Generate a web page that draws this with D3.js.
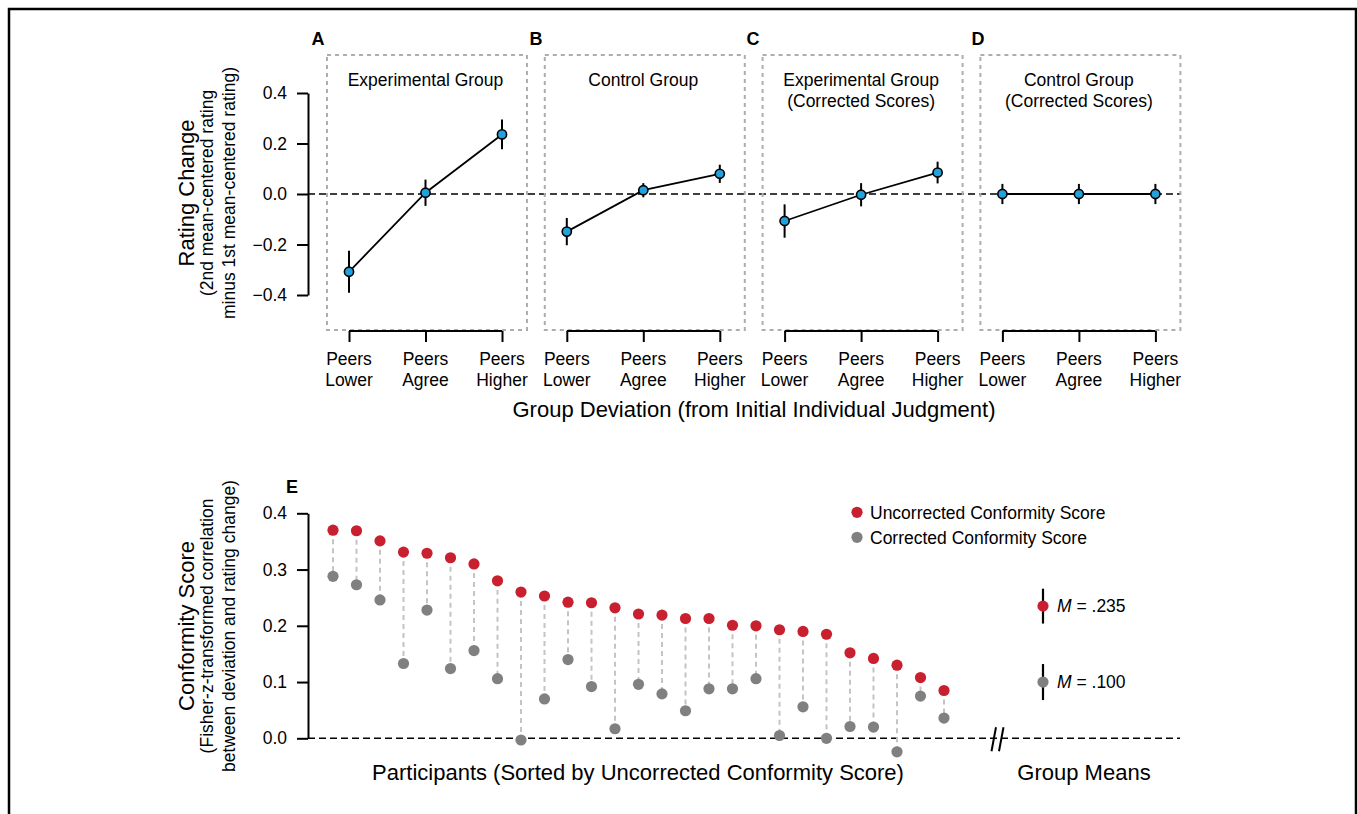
<!DOCTYPE html>
<html>
<head>
<meta charset="utf-8">
<script src="https://cdn.jsdelivr.net/npm/d3@7"></script>
<style>
  body { margin: 0; background: #fff; }
  svg { display: block; font-family: "Liberation Sans", Arial, sans-serif; }
</style>
</head>
<body>
<div id="container"></div>
<script>
// panels A-D
const panelLetters = ["A", "B", "C", "D"];
const panelTitles = [
  ["Experimental Group"],
  ["Control Group"],
  ["Experimental Group", "(Corrected Scores)"],
  ["Control Group", "(Corrected Scores)"]
];
const deviationCats = ["Lower", "Agree", "Higher"];
const ratingMeans = [
  [-0.308, 0.005, 0.236],
  [-0.149, 0.015, 0.080],
  [-0.107, -0.003, 0.085],
  [0.000, 0.000, 0.000]
];
const ratingErr = [
  [0.083, 0.052, 0.059],
  [0.054, 0.028, 0.036],
  [0.066, 0.046, 0.043],
  [0.040, 0.040, 0.040]
];
const ratingTicks = [-0.4, -0.2, 0.0, 0.2, 0.4];

// panel E
const uncorrected = [0.370, 0.369, 0.351, 0.331, 0.329, 0.321, 0.310, 0.280, 0.260, 0.253,
  0.242, 0.241, 0.232, 0.221, 0.219, 0.213, 0.213, 0.201, 0.200, 0.193,
  0.190, 0.185, 0.152, 0.142, 0.130, 0.108, 0.085];
const corrected = [0.288, 0.273, 0.246, 0.133, 0.228, 0.124, 0.156, 0.106, -0.003, 0.070,
  0.140, 0.092, 0.017, 0.096, 0.079, 0.049, 0.088, 0.088, 0.106, 0.005,
  0.056, 0.000, 0.021, 0.020, -0.024, 0.075, 0.036];
const groupMeans = [0.235, 0.100];
const groupMeanErr = [0.031, 0.032];
const meanLabels = [".235", ".100"];
const legendLabels = ["Uncorrected Conformity Score", "Corrected Conformity Score"];
const conformityTicks = [0.0, 0.1, 0.2, 0.3, 0.4];

const RED = "#c8202f", GRAY = "#808080", BLUE = "#22a2dc";

const svg = d3.select("#container").
  append("svg").
  attr("width", 1357).
  attr("height", 814);

// outer frame
svg.append("path").
  attr("d", "M9,814V9H1356V814").
  attr("fill", "none").
  attr("stroke", "#000").
  attr("stroke-width", 2.5);

// ---------- top panels ----------
let yTop = d3.scaleLinear().domain([-0.4, 0.4]).range([295, 93]);
let panelStep = 217.8, panelLeft = 327, boxW = 200;

let yAxisTop = d3.axisLeft(yTop).
  tickValues(ratingTicks).
  tickSize(11).
  tickSizeOuter(0).
  tickPadding(10).
  tickFormat(d3.format(".1f"));

let gy = svg.append("g").
  attr("transform", "translate(308,0)").
  call(yAxisTop);
styleAxis(gy);

// zero line
svg.append("line").
  attr("x1", 308).attr("x2", 1180).
  attr("y1", yTop(0)).attr("y2", yTop(0)).
  attr("stroke", "#000").
  attr("stroke-width", 1.6).
  attr("stroke-dasharray", "7,4");

panelLetters.forEach((letter, i) => {
  let x0 = panelLeft + i * panelStep;
  let g = svg.append("g");

  // dashed box
  g.append("rect").
    attr("x", x0).attr("y", 55).
    attr("width", boxW).attr("height", 275).
    attr("fill", "none").
    attr("stroke", "#adadad").
    attr("stroke-width", 2).
    attr("stroke-dasharray", "4,4");

  let xs = d3.scalePoint().
    domain(deviationCats).
    range([x0 + 22, x0 + 175]);

  let xAxis = d3.axisBottom(xs).
    tickSize(11).
    tickSizeOuter(0).
    tickFormat("");
  let gx = g.append("g").
    attr("transform", "translate(0,331)").
    call(xAxis);
  gx.select(".domain").attr("d", "M" + xs("Lower") + ",0H" + xs("Higher"));
  styleAxis(gx);

  deviationCats.forEach(c => {
    let t = g.append("text").
      attr("x", xs(c)).
      attr("text-anchor", "middle").
      attr("font-size", 17.5);
    t.append("tspan").attr("x", xs(c)).attr("y", 365).text("Peers");
    t.append("tspan").attr("x", xs(c)).attr("y", 386).text(c);
  });

  // title
  panelTitles[i].forEach((line, j) => {
    g.append("text").
      attr("x", xs("Agree")).
      attr("y", 86 + j * 20.5).
      attr("text-anchor", "middle").
      attr("font-size", 17.5).
      text(line);
  });

  // letter
  g.append("text").
    attr("x", [318, 536, 753, 978][i]).
    attr("y", 45).
    attr("text-anchor", "middle").
    attr("font-size", 18).
    attr("font-weight", "bold").
    text(letter);

  let pts = deviationCats.map((c, k) => ({ c: c, v: ratingMeans[i][k], e: ratingErr[i][k] }));

  g.selectAll(".err").
    data(pts).
    enter().
    append("line").
    attr("x1", d => xs(d.c)).attr("x2", d => xs(d.c)).
    attr("y1", d => yTop(d.v - d.e)).attr("y2", d => yTop(d.v + d.e)).
    attr("stroke", "#000").
    attr("stroke-width", 2);

  g.append("path").
    datum(pts).
    attr("d", d3.line().x(d => xs(d.c)).y(d => yTop(d.v))).
    attr("fill", "none").
    attr("stroke", "#000").
    attr("stroke-width", 1.8);

  g.selectAll(".pt").
    data(pts).
    enter().
    append("circle").
    attr("cx", d => xs(d.c)).
    attr("cy", d => yTop(d.v)).
    attr("r", 4.6).
    attr("fill", BLUE).
    attr("stroke", "#000").
    attr("stroke-width", 1.6);
});

// y title top
rotatedTitle(194, 193, ["Rating Change"], 22);
rotatedTitle(213, 193, ["(2nd mean-centered rating"], 17.5);
rotatedTitle(235, 193, ["minus 1st mean-centered rating)"], 17.5);

svg.append("text").
  attr("x", 754).attr("y", 417).
  attr("text-anchor", "middle").
  attr("font-size", 22).
  text("Group Deviation (from Initial Individual Judgment)");

// ---------- panel E ----------
let yE = d3.scaleLinear().domain([0, 0.4]).range([738.3, 513.3]);
let xE = d3.scalePoint().
  domain(d3.range(1, uncorrected.length + 1)).
  range([333, 944]);

let gyE = svg.append("g").
  attr("transform", "translate(308,0)").
  call(d3.axisLeft(yE).
    tickValues(conformityTicks).
    tickSize(11).
    tickSizeOuter(0).
    tickPadding(10).
    tickFormat(d3.format(".1f")));
styleAxis(gyE);

// zero line with axis break
svg.append("line").
  attr("x1", 308).attr("x2", 1180).
  attr("y1", yE(0)).attr("y2", yE(0)).
  attr("stroke", "#000").
  attr("stroke-width", 1.6).
  attr("stroke-dasharray", "7,4");
[991.5, 999].forEach(bx => {
  svg.append("line").
    attr("x1", bx).attr("y1", yE(0) + 13).
    attr("x2", bx + 4.5).attr("y2", yE(0) - 11).
    attr("stroke", "#000").
    attr("stroke-width", 2);
});

let parts = uncorrected.map((u, i) => ({ i: i + 1, u: u, c: corrected[i] }));

svg.selectAll(".conn").
  data(parts).
  enter().
  append("line").
  attr("x1", d => xE(d.i)).attr("x2", d => xE(d.i)).
  attr("y1", d => yE(d.u)).attr("y2", d => yE(d.c)).
  attr("stroke", "#c4c4c4").
  attr("stroke-width", 2).
  attr("stroke-dasharray", "5,4");

svg.selectAll(".cor").
  data(parts).
  enter().
  append("circle").
  attr("cx", d => xE(d.i)).
  attr("cy", d => yE(d.c)).
  attr("r", 5.6).
  attr("fill", GRAY);

svg.selectAll(".unc").
  data(parts).
  enter().
  append("circle").
  attr("cx", d => xE(d.i)).
  attr("cy", d => yE(d.u)).
  attr("r", 5.6).
  attr("fill", RED);

// group means
let meanX = 1043;
groupMeans.forEach((m, k) => {
  svg.append("line").
    attr("x1", meanX).attr("x2", meanX).
    attr("y1", yE(m - groupMeanErr[k])).attr("y2", yE(m + groupMeanErr[k])).
    attr("stroke", "#000").
    attr("stroke-width", 2.2);
  svg.append("circle").
    attr("cx", meanX).attr("cy", yE(m)).
    attr("r", 5.6).
    attr("fill", k === 0 ? RED : GRAY);
  let t = svg.append("text").
    attr("x", meanX + 14).
    attr("y", yE(m) + 6).
    attr("font-size", 17.5);
  t.append("tspan").attr("font-style", "italic").text("M");
  t.append("tspan").text(" = " + meanLabels[k]);
});

// legend
legendLabels.forEach((lab, k) => {
  svg.append("circle").
    attr("cx", 857).attr("cy", 512.3 + k * 25).
    attr("r", 5.6).
    attr("fill", k === 0 ? RED : GRAY);
  svg.append("text").
    attr("x", 870).attr("y", 518.5 + k * 25).
    attr("font-size", 17.5).
    text(lab);
});

svg.append("text").
  attr("x", 292).attr("y", 492.7).
  attr("text-anchor", "middle").
  attr("font-size", 18).
  attr("font-weight", "bold").
  text("E");

rotatedTitle(194, 626, ["Conformity Score"], 22);
rotatedTitle(213, 626, ["(Fisher-z-transformed correlation"], 17.5);
rotatedTitle(235, 626, ["between deviation and rating change)"], 17.5);

svg.append("text").
  attr("x", 638).attr("y", 780).
  attr("text-anchor", "middle").
  attr("font-size", 22).
  text("Participants (Sorted by Uncorrected Conformity Score)");

svg.append("text").
  attr("x", 1084).attr("y", 780).
  attr("text-anchor", "middle").
  attr("font-size", 22).
  text("Group Means");


// helper functions
function styleAxis(g) {
  g.select(".domain").attr("stroke", "#000").attr("stroke-width", 2);
  g.selectAll(".tick line").attr("stroke", "#000").attr("stroke-width", 2);
  g.selectAll(".tick text").
    attr("font-size", 17.5).
    attr("font-family", "Liberation Sans, Arial, sans-serif").
    attr("fill", "#000");
}

function rotatedTitle(x, y, lines, size) {
  svg.append("text").
    attr("transform", "translate(" + x + "," + y + ") rotate(-90)").
    attr("text-anchor", "middle").
    attr("font-size", size).
    text(lines[0]);
}
</script>
</body>
</html>
